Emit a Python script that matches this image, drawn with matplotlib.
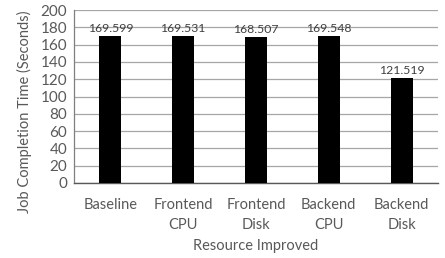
import matplotlib
matplotlib.use("Agg")
import matplotlib.pyplot as plt

categories = ["Baseline", "Frontend\nCPU", "Frontend\nDisk", "Backend\nCPU", "Backend\nDisk"]
values = [169.599, 169.531, 168.507, 169.548, 121.519]
labels = ["169.599", "169.531", "168.507", "169.548", "121.519"]
yticks = [0, 20, 40, 60, 80, 100, 120, 140, 160, 180, 200]

plt.rcParams['font.family'] = ['Lato', 'DejaVu Sans']
txt = '#595959'

fig = plt.figure(figsize=(4.45, 2.58), dpi=100)
ax = fig.add_axes([74/445, 1-183/258, (438-74)/445, (183-10)/258])

x = list(range(len(categories)))
ax.bar(x, values, width=0.30, color='black', zorder=3)
for xi, v, l in zip(x, values, labels):
    ax.text(xi, v + 2.5, l, ha='center', va='bottom', fontsize=8.8, color='#404040', zorder=4)

ax.set_xlim(-0.5, len(categories) - 0.5)
ax.set_ylim(0, 200)
ax.set_yticks(yticks)
ax.set_xticks(x)
ax.set_xticklabels(categories, fontsize=10.5, color=txt, linespacing=1.55)
ax.tick_params(axis='y', labelsize=11, labelcolor=txt, length=0, pad=5)
ax.tick_params(axis='x', length=0, pad=11)
ax.yaxis.grid(True, color='#a6a6a6', linewidth=0.9, zorder=0)
for s in ['top', 'right']:
    ax.spines[s].set_visible(False)
ax.spines['left'].set_color('#7f7f7f')
ax.spines['left'].set_linewidth(0.9)
ax.spines['bottom'].set_color('#595959')
ax.spines['bottom'].set_linewidth(1.0)
ax.set_xlabel("Resource Improved", fontsize=10.5, color=txt, labelpad=5)
ax.set_ylabel("Job Completion Time (Seconds)", fontsize=10.5, color=txt)
ax.yaxis.set_label_coords(-42/364, 0.41)

fig.savefig("out.png", dpi=100)
